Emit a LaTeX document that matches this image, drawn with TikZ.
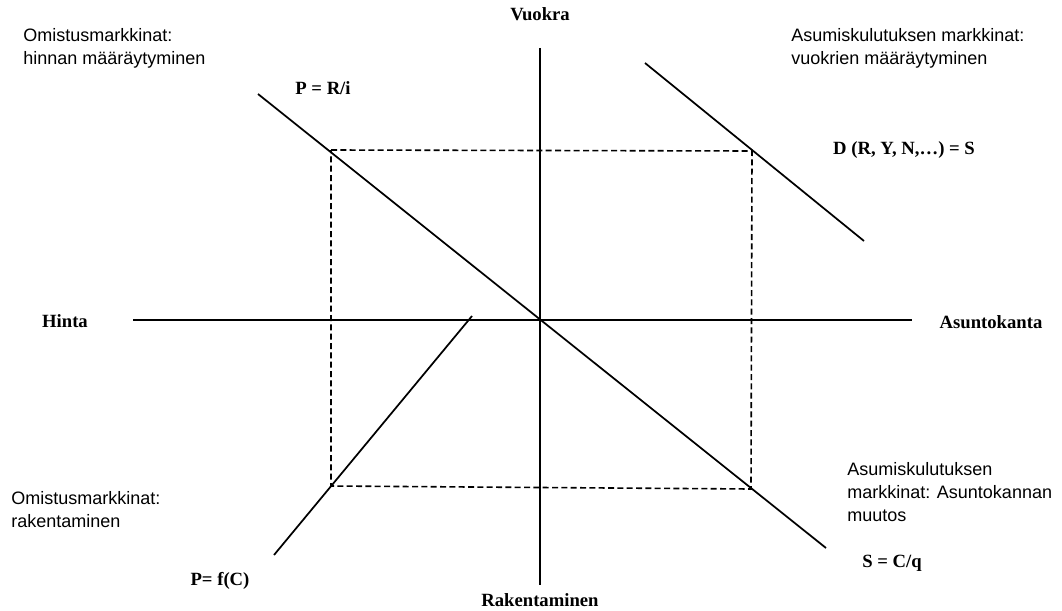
\documentclass[tikz,border=0pt]{standalone}
\usepackage{fontspec}
\setmainfont{Liberation Serif}
\setsansfont{Liberation Sans}
\usetikzlibrary{positioning,calc}

\begin{document}
\begin{tikzpicture}[
    x=0.75pt, y=-0.75pt,
    axis/.style={line width=1.3pt},
    curve/.style={line width=1.3pt},
    guide/.style={dash pattern=on 4.5pt off 2.5pt, line width=1.2pt},
    lbl/.style={font=\bfseries\fontsize{14}{16}\selectfont, inner sep=1pt},
    note/.style={font=\sffamily\fontsize{13.5}{17.3}\selectfont, align=left, anchor=north west, inner sep=0pt},
]
\useasboundingbox (0,0) rectangle (1062,610);

% axes
\coordinate (O) at (540,320);
\coordinate (ytop) at (540,48);
\coordinate (ybot) at (540,585);
\coordinate (xleft) at (133,320);
\coordinate (xright) at (912,320);
\draw[axis] (ytop) -- (ybot);
\draw[axis] (xleft) -- (xright);

\node[lbl] (vuokra) at (540,14) {Vuokra};
\node[lbl] (rak) at (540,600) {Rakentaminen};
\node[lbl] (hinta) at (65,321) {Hinta};
\node[lbl] (kanta) at (991,322) {Asuntokanta};

% curves
\coordinate (pa) at (258,94);
\coordinate (pb) at (826,548);
\coordinate (da) at (645,63);
\coordinate (db) at (864,241);
\coordinate (fa) at (472,316);
\coordinate (fb) at (274,555);
\draw[curve] (pa) -- (pb);
\draw[curve] (da) -- (db);
\draw[curve] (fa) -- (fb);

% dashed square
\coordinate (c1) at (331,150);
\coordinate (c2) at (752,151);
\coordinate (c3) at (751,489);
\coordinate (c4) at (331,486);
\draw[guide] (c1) -- (c2) -- (c3) -- (c4) -- cycle;

\node[lbl] (pri) at (323,88) {P = R/i};
\node[lbl] (dem) at (904,150) {D (R, Y, N,\ldots) = S};
\node[lbl] (pfc) at (220,581) {P= f(C)};
\node[lbl] (scq) at (892,563) {S = C/q};

\node[note] (q2) at (23,28) {Omistusmarkkinat:\\hinnan määräytyminen};
\node[note] (q1) at (791,28) {Asumiskulutuksen markkinat:\\vuokrien määräytyminen};
\node[note] (q3) at (11,491) {Omistusmarkkinat:\\rakentaminen};
\node[note] (q4) at (847,462) {Asumiskulutuksen\\markkinat: Asuntokannan\\muutos};
\end{tikzpicture}
\end{document}
